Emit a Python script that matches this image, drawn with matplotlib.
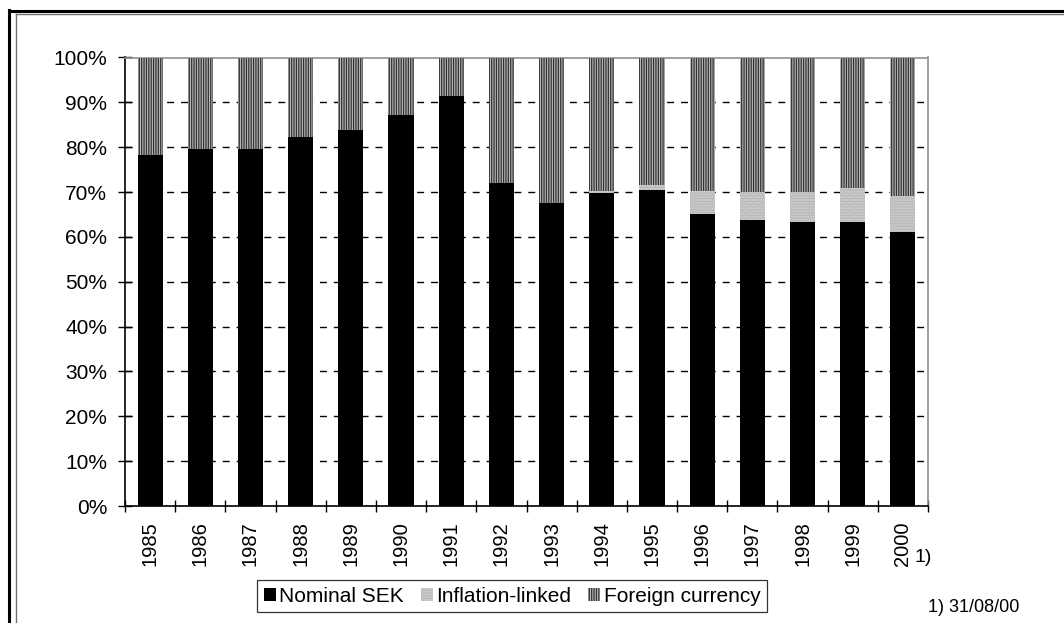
import matplotlib
matplotlib.use("Agg")
import matplotlib.pyplot as plt
from matplotlib.lines import Line2D
from matplotlib.patches import Patch
import numpy as np

years = ["1985", "1986", "1987", "1988", "1989", "1990", "1991", "1992",
         "1993", "1994", "1995", "1996", "1997", "1998", "1999", "2000"]
nominal_sek = [78.3, 79.7, 79.7, 82.3, 83.8, 87.2, 91.4, 72.0,
               67.5, 69.8, 70.4, 65.0, 63.8, 63.4, 63.4, 61.2]
inflation_linked = [0.0, 0.0, 0.0, 0.0, 0.0, 0.0, 0.0, 0.0,
                    0.0, 0.4, 1.1, 5.3, 6.1, 6.5, 7.4, 8.0]
foreign_currency = [100 - n - i for n, i in zip(nominal_sek, inflation_linked)]
y_ticks = [0, 10, 20, 30, 40, 50, 60, 70, 80, 90, 100]
y_tick_labels = [f"{v}%" for v in y_ticks]

plt.rcParams["font.family"] = ["Liberation Sans", "DejaVu Sans"]
plt.rcParams["hatch.linewidth"] = 0.9

W, H = 1064, 623
fig = plt.figure(figsize=(W / 100, H / 100), dpi=100)

ax = fig.add_axes([125 / W, 1 - 506 / H, (928 - 125) / W, (506 - 57.5) / H])

x = np.arange(len(years))
bw = 0.5
nom = np.array(nominal_sek)
inf = np.array(inflation_linked)
fx = np.array(foreign_currency)

infl_face, infl_dot = "#b9b9b9", "#d6d6d6"
fx_face, fx_line = "#b8b8b8", "#333333"

ax.bar(x, nom, bw, color="black", linewidth=0, zorder=3)
ax.bar(x, inf, bw, bottom=nom, facecolor=infl_face, edgecolor=infl_dot,
       hatch="......", linewidth=0, zorder=3)
ax.bar(x, fx, bw, bottom=nom + inf, facecolor=fx_face, edgecolor=fx_line,
       hatch="|||||||", linewidth=0, zorder=3)

ax.set_xlim(-0.5, len(years) - 0.5)
ax.set_ylim(0, 100)

for v in y_ticks[1:-1]:
    ax.axhline(v, color="black", linewidth=1.0, linestyle=(0, (5, 5)), zorder=1)

ax.set_yticks(y_ticks)
ax.set_yticklabels(y_tick_labels, fontsize=15)
ax.tick_params(axis="y", direction="inout", length=10.5, width=1, pad=7.5)

ax.set_xticks(x)
ax.set_xticklabels(years, rotation=90, fontsize=14.5)
ax.tick_params(axis="x", which="major", length=0, pad=11)
ax.set_xticks(np.arange(-0.5, len(years)), minor=True)
ax.tick_params(axis="x", which="minor", direction="inout", length=9, width=1)

for side in ("left", "bottom"):
    ax.spines[side].set_color("black")
    ax.spines[side].set_linewidth(1.2)
for side in ("top", "right"):
    ax.spines[side].set_color("#909090")
    ax.spines[side].set_linewidth(1.2)

handles = [
    Patch(facecolor="black", edgecolor="black", linewidth=0),
    Patch(facecolor=infl_face, edgecolor=infl_dot, hatch="......", linewidth=0),
    Patch(facecolor=fx_face, edgecolor=fx_line, hatch="|||||||", linewidth=0),
]
leg = fig.legend(handles, ["Nominal SEK", "Inflation-linked", "Foreign currency"],
                 loc="center", bbox_to_anchor=(512 / W, 1 - 596 / H), ncol=3,
                 fontsize=15, frameon=True, fancybox=False, handlelength=0.6,
                 handleheight=0.6, handletextpad=0.15, columnspacing=0.8,
                 borderpad=0.3, borderaxespad=0)
leg.get_frame().set_edgecolor("black")
leg.get_frame().set_linewidth(0.9)

fig.text(914 / W, 1 - 557 / H, "1)", fontsize=14, ha="left", va="center")
fig.text(928 / W, 1 - 607 / H, "1) 31/08/00", fontsize=13, ha="left", va="center")

# double frame around the chart
fig.add_artist(Line2D([9 / W, 9 / W], [0, 1 - 10 / H], color="black", linewidth=2.2,
                      transform=fig.transFigure))
fig.add_artist(Line2D([9 / W, 1], [1 - 10.5 / H, 1 - 10.5 / H], color="black",
                      linewidth=2.2, transform=fig.transFigure))
fig.add_artist(Line2D([16 / W, 16 / W], [0, 1 - 14 / H], color="#707070", linewidth=1.0,
                      transform=fig.transFigure))
fig.add_artist(Line2D([16 / W, 1], [1 - 14 / H, 1 - 14 / H], color="#707070",
                      linewidth=1.0, transform=fig.transFigure))

fig.savefig("out.png", dpi=100)
